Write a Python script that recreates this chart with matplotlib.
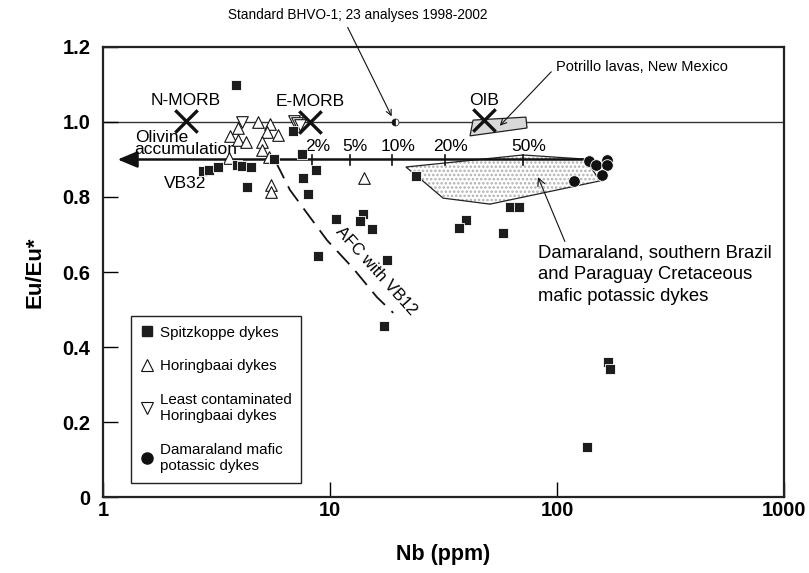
import numpy as np
import matplotlib
matplotlib.use('Agg')
import matplotlib.pyplot as plt
from matplotlib.lines import Line2D
from matplotlib.patches import Polygon

plt.rcParams['font.family'] = ['Liberation Sans', 'DejaVu Sans']
plt.rcParams['hatch.linewidth'] = 1.2

# Spitzkoppe dykes
spitz_nb = [3.85, 2.76, 2.93, 3.21, 3.89, 4.10, 4.48, 5.66, 4.31, 6.87, 7.53, 7.61, 8.00,
            8.67, 10.6, 14.0, 13.5, 15.3, 8.85, 17.8, 17.3, 23.9, 62.1, 68.0, 39.7, 37.0,
            57.8, 168, 171, 136]
spitz_eu = [1.099, 0.869, 0.872, 0.880, 0.885, 0.883, 0.880, 0.901, 0.827, 0.976, 0.915, 0.851, 0.808,
            0.872, 0.741, 0.755, 0.736, 0.715, 0.643, 0.632, 0.456, 0.856, 0.773, 0.773, 0.739, 0.717,
            0.704, 0.360, 0.341, 0.133]

# Horingbaai dykes
hor_nb = [4.82, 5.44, 3.63, 3.93, 5.28, 5.90, 3.93, 4.27, 5.02, 5.02, 3.59, 5.39, 5.50, 5.50, 14.1]
hor_eu = [1.000, 0.995, 0.963, 0.984, 0.973, 0.965, 0.952, 0.947, 0.947, 0.925, 0.904, 0.907, 0.832, 0.813, 0.851]

# least contaminated Horingbaai dykes
lc_nb = [4.10, 6.94, 7.16, 7.38]
lc_eu = [1.000, 1.003, 0.997, 0.992]

# Damaraland mafic potassic dykes
dam_nb = [138, 149, 166, 166, 158, 119]
dam_eu = [0.896, 0.885, 0.899, 0.885, 0.859, 0.843]

# reference compositions
ref_names = ['N-MORB', 'E-MORB', 'OIB']
ref_nb = [2.32, 8.16, 47.7]
ref_eu = [1.003, 1.0, 1.005]
bhvo_nb, bhvo_eu = 19.3, 1.0

# fields
potrillo_nb = [42.7, 73.0, 73.8, 41.4]
potrillo_eu = [1.005, 1.013, 0.984, 0.963]
damfield_nb = [21.6, 70.8, 133, 155, 50.7, 31.5, 25.4]
damfield_eu = [0.880, 0.912, 0.901, 0.843, 0.781, 0.797, 0.845]

# mixing line and AFC curve
mix_pct = ['2%', '5%', '10%', '20%', '50%']
mix_nb = [8.33, 12.2, 18.8, 32.1, 70.8]
mix_eu = 0.9
afc_nb = [5.78, 6.66, 7.92, 9.70, 12.6, 16.1, 19.0]
afc_eu = [0.893, 0.819, 0.757, 0.685, 0.611, 0.533, 0.491]

fig = plt.figure(figsize=(8.09, 5.73), dpi=100)
ax = fig.add_axes([0.1273, 0.1326, 0.8417, 0.7854])
ax.set_xscale('log')
ax.set_xlim(1, 1000)
ax.set_ylim(0, 1.2)

ax.axhline(1.0, color='#333333', lw=1.0, zorder=1)

# fields
field = list(zip(damfield_nb, damfield_eu))
ax.add_patch(Polygon(field, closed=True, facecolor='white', edgecolor='#b0b0b0', lw=0,
                     hatch='....', zorder=2))
ax.add_patch(Polygon(field, closed=True, fill=False, edgecolor='#222222', lw=0.9, zorder=2))
ax.add_patch(Polygon(list(zip(potrillo_nb, potrillo_eu)), closed=True, facecolor='#d9d9d9',
                     edgecolor='#222222', lw=0.9, zorder=2))

# mixing line with olivine arrow
ax.annotate('', xy=(1.16, mix_eu), xytext=(dam_nb[0], mix_eu),
            arrowprops=dict(arrowstyle='-|>,head_length=0.6,head_width=0.25', lw=1.8,
                            color='#111111', mutation_scale=20, shrinkA=0, shrinkB=0), zorder=3)
for p, x in zip(mix_pct, mix_nb):
    ax.plot([x, x], [mix_eu - 0.014, mix_eu + 0.012], color='#111111', lw=1.2, zorder=3)
    ax.annotate(p, (x, mix_eu), xytext=(4, 4), textcoords='offset points',
                ha='center', va='bottom', fontsize=12.5)

# AFC curve
ax.plot(afc_nb, afc_eu, color='#111111', lw=1.3, dashes=(10, 5), zorder=3)
ax.text(15.95, 0.603, 'AFC with VB12', rotation=-48, ha='center', va='center', fontsize=12,
        rotation_mode='anchor')

# data
ax.scatter(spitz_nb, spitz_eu, marker='s', s=50, c='#1e1c1c', edgecolors='white', linewidths=0.6, zorder=5)
ax.scatter(hor_nb, hor_eu, marker='^', s=70, facecolors='white', edgecolors='#111111', linewidths=0.8, zorder=4)
ax.scatter(lc_nb, lc_eu, marker='v', s=70, facecolors='white', edgecolors='#111111', linewidths=0.8, zorder=4)
ax.scatter(dam_nb, dam_eu, marker='o', s=70, c='#111111', edgecolors='white', linewidths=0.6, zorder=5)

ax.scatter(ref_nb, ref_eu, marker='x', s=260, c='#111111', linewidths=2.4, zorder=6)
for name, x, y in zip(ref_names, ref_nb, ref_eu):
    ax.annotate(name, (x, y), xytext=(0, 9), textcoords='offset points',
                ha='center', va='bottom', fontsize=12.5)
ax.plot([bhvo_nb], [bhvo_eu], marker='o', ms=5, fillstyle='left', color='#111111',
        markerfacecoloralt='white', mew=0.5, zorder=6)

# labels and arrows
ax.text(1.38, 0.979, 'Olivine\naccumulation', ha='left', va='top', fontsize=12.5, linespacing=0.8)
ax.text(2.31, 0.837, 'VB32', ha='center', va='center', fontsize=12.5)

ax.annotate('Standard BHVO-1; 23 analyses 1998-2002', xy=(18.7, 1.015), xytext=(13.3, 1.285),
            ha='center', va='center', fontsize=9.8, annotation_clip=False,
            arrowprops=dict(arrowstyle='->', lw=0.8, color='#111111', shrinkA=2, shrinkB=0,
                            relpos=(0.45, 0.0)))
ax.annotate('Potrillo lavas, New Mexico', xy=(56, 0.99), xytext=(99, 1.147),
            ha='left', va='center', fontsize=10.5,
            arrowprops=dict(arrowstyle='->', lw=0.8, color='#111111', shrinkA=2, shrinkB=0,
                            relpos=(0, 0.5)))
ax.annotate('Damaraland, southern Brazil\nand Paraguay Cretaceous\nmafic potassic dykes',
            xy=(82.5, 0.853), xytext=(82.5, 0.674), ha='left', va='top', fontsize=13.3,
            linespacing=1.38,
            arrowprops=dict(arrowstyle='->', lw=0.8, color='#111111', shrinkA=0, shrinkB=0,
                            relpos=(0.12, 1.0)))

# axes styling
for s in ax.spines.values():
    s.set_linewidth(1.6)
    s.set_color('#222222')
ax.set_xticks([1, 10, 100, 1000])
ax.set_xticklabels(['1', '10', '100', '1000'])
ax.xaxis.set_minor_locator(matplotlib.ticker.NullLocator())
ax.set_yticks([0, 0.2, 0.4, 0.6, 0.8, 1.0, 1.2])
ax.set_yticklabels(['0', '0.2', '0.4', '0.6', '0.8', '1.0', '1.2'])
ax.tick_params(axis='both', direction='in', length=11, width=1.0, labelsize=14.5)
ax.tick_params(axis='x', pad=3)
ax.tick_params(axis='y', pad=9)
for lab in ax.get_xticklabels() + ax.get_yticklabels():
    lab.set_fontweight('bold')
ax.set_xlabel('Nb (ppm)', fontsize=15.5, fontweight='bold', labelpad=17)
ax.set_ylabel('Eu/Eu*', fontsize=16, fontweight='bold', labelpad=12)

handles = [
    Line2D([], [], ls='', marker='s', ms=7, color='#1e1c1c'),
    Line2D([], [], ls='', marker='^', ms=8, mfc='white', mec='#111111', mew=0.8),
    Line2D([], [], ls='', marker='v', ms=8, mfc='white', mec='#111111', mew=0.8),
    Line2D([], [], ls='', marker='o', ms=8, color='#111111'),
]
labels = ['Spitzkoppe dykes', 'Horingbaai dykes', 'Least contaminated\nHoringbaai dykes',
          'Damaraland mafic\npotassic dykes']
leg = ax.legend(handles, labels, loc='lower left', bbox_to_anchor=(0.041, 0.031), borderaxespad=0,
                fontsize=10.9, fancybox=False, edgecolor='#222222', framealpha=1,
                handlelength=0.8, handletextpad=0.45, labelspacing=1.3, borderpad=0.65)
leg.get_frame().set_linewidth(1.0)

fig.savefig('out.png', dpi=100)
